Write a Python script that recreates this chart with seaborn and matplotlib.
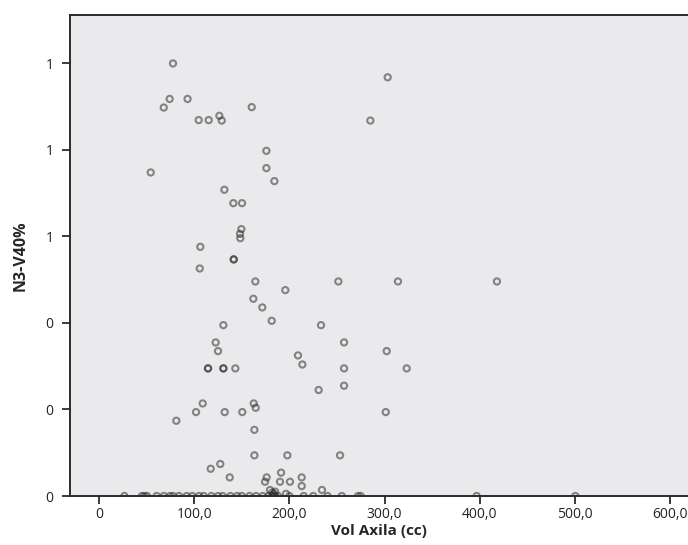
import numpy as np
import pandas as pd
import matplotlib
matplotlib.use("Agg")
import matplotlib.pyplot as plt
import seaborn as sns
from matplotlib.ticker import FixedLocator, FixedFormatter

# ======================================================
# Data
# ======================================================

vol_axila = [
    77.7, 74.2, 68.0, 93.0, 104.7, 115.2, 126.4, 128.9, 160.4, 303.2, 285.0,
    175.8, 175.8, 184.2, 54.3, 131.7, 141.1, 150.2, 149.5, 148.1, 148.4,
    106.4, 141.5, 141.5, 105.8,
    164.2, 251.4, 314.0, 418.0, 195.7, 162.1, 171.5, 181.4, 130.6, 233.2,
    122.5, 125.0, 257.4, 302.2, 209.0, 213.6, 114.5, 114.5, 130.6, 130.6,
    143.2, 257.4, 323.2, 257.4, 230.7, 108.9, 101.9, 132.0, 150.5, 162.5,
    164.6, 301.2, 81.2, 163.2, 163.2, 197.8, 253.2, 117.3, 127.4, 137.3,
    176.1, 174.4, 191.2, 190.1, 200.6, 212.9, 212.9, 234.2, 179.6, 182.0,
    183.5, 185.0, 196.4,
    # points sitting on zero
    26.6, 45.0, 47.6, 50.4, 60.6, 68.0, 74.6, 77.7, 84.0, 92.0, 98.0, 105.0,
    110.0, 118.0, 125.0, 130.0, 138.0, 145.0, 150.0, 158.0, 165.0, 172.0,
    178.0, 182.0, 183.0, 185.0, 188.0, 200.0, 215.0, 225.0, 240.0, 255.0,
    272.0, 274.9, 396.7, 500.4,
]

n3_v40 = [
    1.000, 0.918, 0.898, 0.918, 0.869, 0.869, 0.879, 0.868, 0.899, 0.968, 0.868,
    0.798, 0.758, 0.728, 0.748, 0.708, 0.677, 0.677, 0.617, 0.606, 0.596,
    0.576, 0.547, 0.547, 0.526,
    0.496, 0.496, 0.496, 0.496, 0.476, 0.456, 0.436, 0.405, 0.395, 0.395,
    0.355, 0.335, 0.355, 0.335, 0.325, 0.304, 0.295, 0.295, 0.295, 0.295,
    0.295, 0.295, 0.295, 0.255, 0.245, 0.214, 0.194, 0.194, 0.194, 0.214,
    0.204, 0.194, 0.174, 0.153, 0.094, 0.094, 0.094, 0.063, 0.074, 0.043,
    0.043, 0.033, 0.054, 0.033, 0.033, 0.043, 0.023, 0.014, 0.014, 0.008,
    0.005, 0.010, 0.005,
    0, 0, 0, 0, 0, 0, 0, 0, 0, 0, 0, 0,
    0, 0, 0, 0, 0, 0, 0, 0, 0, 0,
    0, 0, 0, 0, 0, 0, 0, 0, 0, 0,
    0, 0, 0, 0,
]

x_ticks = [0, 100, 200, 300, 400, 500, 600]
x_tick_labels = ["0", "100,0", "200,0", "300,0", "400,0", "500,0", "600,0"]
y_ticks = [0, 0.2, 0.4, 0.6, 0.8, 1.0]
y_tick_labels = ["0", "0", "0", "1", "1", "1"]

df = pd.DataFrame({"Vol Axila (cc)": vol_axila, "N3-V40%": n3_v40})

# ======================================================
# Plot
# ======================================================

sns.set_style("ticks")
plt.rcParams["font.family"] = ["Open Sans", "DejaVu Sans"]

fig = plt.figure(figsize=(6.88, 5.45), dpi=100)
ax = fig.add_axes([70 / 688, 1 - 496 / 545, 1 - 70 / 688, (496 - 15) / 545])
ax.set_facecolor("#eaeaec")

sns.scatterplot(
    data=df,
    x="Vol Axila (cc)",
    y="N3-V40%",
    ax=ax,
    marker="o",
    s=20,
    linewidth=1.5,
    edgecolor="#2e2e2e",
    alpha=0.55,
)
pts = ax.collections[0]
pts.set_facecolor("none")
pts.set_clip_on(True)
pts.set_clip_path(ax.patch)
pts.set_zorder(1)

ax.set_xlim(-30.5, 618.7)
ax.set_ylim(0, 1.112)

ax.xaxis.set_major_locator(FixedLocator(x_ticks))
ax.xaxis.set_major_formatter(FixedFormatter(x_tick_labels))
ax.yaxis.set_major_locator(FixedLocator(y_ticks))
ax.yaxis.set_major_formatter(FixedFormatter(y_tick_labels))

for side in ["left", "bottom", "top", "right"]:
    ax.spines[side].set_color("#2b2b2b")
    ax.spines[side].set_linewidth(1.4)
    ax.spines[side].set_zorder(3)
ax.spines["right"].set_visible(False)

ax.tick_params(axis="both", direction="out", length=6, width=1.3,
               color="#2b2b2b", labelsize=10, labelcolor="#222222")
ax.tick_params(axis="y", pad=6)
ax.tick_params(axis="x", pad=2)

ax.set_xlabel("Vol Axila (cc)", fontsize=11, fontweight="bold", labelpad=1)
ax.set_ylabel("N3-V40%", fontsize=11.5, fontweight="bold", labelpad=12)

fig.savefig("out.png", dpi=100)
